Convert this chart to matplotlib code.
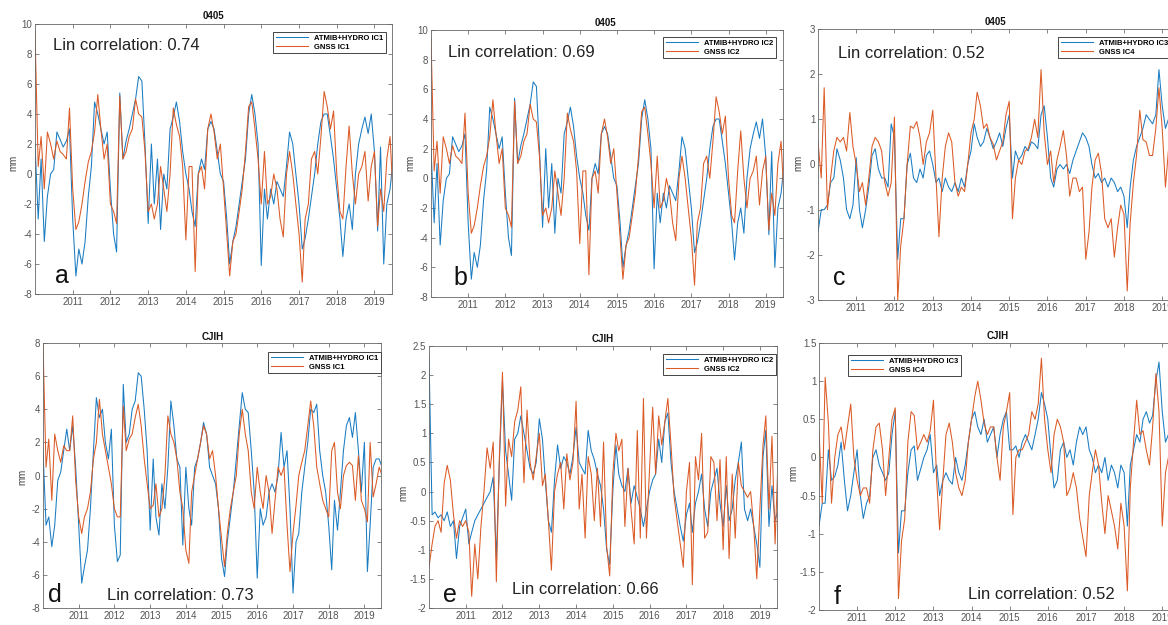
import pandas as pd
import matplotlib
matplotlib.use("Agg")
import matplotlib.pyplot as plt
from matplotlib.ticker import FormatStrFormatter

W, H = 1168, 625
plt.rcParams["font.family"] = ["Liberation Sans", "DejaVu Sans"]
plt.rcParams["axes.unicode_minus"] = False

BLUE = "#1A7CC2"
ORANGE = "#DB5A25"

# monthly samples, Jan 2010 .. Jul 2019
months = pd.date_range("2010-01-01", periods=115, freq="MS")
year_ticks = [2011, 2012, 2013, 2014, 2015, 2016, 2017, 2018, 2019]

# station 0405, IC1 / IC2 (mm)
hydro_0405_ic1 = [
    2.0, -3.0, 1.0, -4.5, -1.5, 0.0, 0.3, 2.8, 2.3, 1.8, 2.2, 3.0,
    -3.0, -6.8, -5.0, -6.0, -4.5, -1.5, 0.5, 4.8, 4.0, 3.0, 2.0, 2.8,
    -1.0, -4.0, -5.2, 5.4, 1.0, 2.2, 3.0, 4.0, 5.0, 6.5, 6.2, 2.0,
    -3.3, 2.0, -2.0, 1.0, -3.7, 0.0, -1.0, 3.0, 3.8, 4.8, 3.5, 1.5,
    0.0, -1.0, -2.5, -3.5, 0.0, 1.0, 0.3, 3.0, 3.5, 3.0, 1.5, 0.0,
    -0.5, -3.0, -6.0, -4.5, -3.5, -2.0, -0.5, 1.0, 4.0, 5.3, 4.0, 2.0,
    -6.1, -1.0, -3.0, -1.0, -2.0, -0.5, -1.0, -1.5, 0.5, 2.8, 2.0, 0.0,
    -2.0, -5.0, -4.3, -3.0, -1.5, 0.0, 2.0, 3.5, 4.0, 4.0, 2.5, 1.0,
    -1.0, -3.0, -5.5, -3.0, -2.0, -3.7, 0.0, 2.0, 3.0, 3.8, 2.7, 4.0,
    1.5, -3.8, 1.8, -6.0, -2.0, -1.0, 1.0,
]
gnss_0405_ic1 = [
    9.5, 0.5, 2.5, -1.0, 2.8, 2.0, 1.0, 2.2, 1.5, 1.3, 1.0, 4.4,
    -1.0, -3.7, -3.2, -2.0, -0.5, 0.8, 1.5, 2.8, 5.3, 3.0, 1.0, 2.0,
    -2.0, -2.5, -3.3, 5.2, 1.0, 1.5, 2.5, 3.0, 5.0, 4.0, 3.8, 1.5,
    -2.5, -2.0, -3.0, -2.0, 0.5, -1.0, -2.5, 0.0, 4.4, 3.3, 2.5, 0.5,
    -4.4, 0.5, 0.5, -6.5, 0.0, 0.5, -1.0, 3.0, 4.0, 2.8, 1.0, 2.0,
    -1.0, -4.0, -6.8, -4.5, -4.0, -2.5, -1.0, 1.5, 4.5, 4.8, 3.0, 1.0,
    -2.0, 1.5, -2.0, -1.5, 0.0, -1.0, -3.0, -4.2, 0.0, 1.5, 0.0, -2.0,
    -4.0, -7.2, -3.0, -2.0, 1.0, 1.5, 0.0, 2.5, 5.5, 4.5, 3.0, 4.2,
    0.0, -2.5, -3.0, 0.5, 3.2, 0.0, -2.0, 0.0, 0.5, 1.5, -1.8, 0.5,
    1.5, -3.5, -1.0, -2.5, 1.0, 2.5, -1.5,
]

# station 0405, IC3 / IC4 (mm)
hydro_0405_ic3 = [
    -1.5, -1.0, -1.0, -0.9, -0.4, -0.3, 0.35, 0.1, -0.3, -1.0, -1.2, -0.9,
    0.15, -1.0, -1.4, -1.0, -0.5, 0.2, 0.35, -0.1, -0.3, -0.3, -0.5, 0.9,
    0.6, -2.1, -1.2, -1.2, 0.0, 0.25, -0.3, -0.4, -0.1, -0.3, 0.2, 0.3,
    0.0, -0.4, -0.3, -0.6, -0.3, -0.5, -0.6, -0.4, -0.6, -0.3, -0.5, 0.0,
    0.3, 0.9, 0.6, 0.4, 0.5, 0.8, 0.6, 0.35, 0.5, 0.7, 0.4, 0.8,
    1.1, -0.3, 0.3, 0.1, 0.2, 0.4, 0.3, 0.5, 0.45, 0.35, 1.1, 1.3,
    0.6, -0.3, -0.5, -0.1, 0.0, -0.1, 0.0, -0.2, 0.1, 0.3, 0.5, 0.7,
    0.6, 0.4, 0.0, -0.3, -0.2, -0.4, -0.3, -0.5, -0.3, -0.4, -0.6, -0.5,
    -0.7, -1.4, -0.5, 0.1, 0.4, 0.6, 0.8, 1.1, 1.0, 0.9, 1.1, 2.1,
    1.3, 0.8, 1.0, 0.7, 0.5, 0.6, 0.5,
]
gnss_0405_ic4 = [
    0.5, -0.3, 1.7, -1.0, -0.3, 0.3, 0.6, 0.5, 0.6, 0.3, 1.15, 0.4,
    0.0, -0.6, -0.4, -0.9, -0.3, 0.4, 0.6, 0.5, 0.3, -0.4, -0.7, -0.4,
    1.05, -3.0, -1.8, -1.2, 0.0, 0.85, 0.8, 0.95, 0.6, 0.0, 0.5, 0.7,
    1.2, -0.3, -1.6, -0.3, 0.4, 0.7, 0.5, -0.4, -0.7, -0.5, -0.6, 0.0,
    0.7, 1.0, 1.6, 1.3, 0.8, 0.9, 0.6, 0.45, 0.1, 0.3, 0.5, 1.1,
    1.4, -1.2, -0.3, 0.1, 0.0, 0.3, 0.35, 0.6, 1.0, 0.6, 2.1, 0.7,
    0.0, 0.3, -0.4, 0.1, 0.4, 0.75, 0.2, -0.7, -0.3, -0.3, -0.6, -0.5,
    -2.1, -1.5, -0.5, 0.1, 0.25, -0.2, -1.2, -1.4, -1.2, -2.05, -1.4, -0.9,
    -1.1, -2.8, -1.3, -0.4, 0.2, 1.2, 0.55, 0.5, 0.2, 0.2, 0.8, 1.7,
    0.8, -0.5, 0.3, -1.0, -0.2, 0.0, 0.2,
]

# station CJIH, IC1 (mm)
hydro_cjih_ic1 = [
    1.5, -3.0, -2.5, -4.3, -3.0, -0.3, 0.2, 1.5, 2.8, 1.5, 3.0, 0.5,
    -3.0, -6.5, -5.5, -4.5, -2.0, 1.5, 4.7, 3.5, 4.0, 2.0, 1.0, 2.8,
    -3.0, -5.2, -4.8, 5.5, 2.0, 2.5, 4.0, 4.5, 6.2, 6.0, 4.0, 1.5,
    -3.3, 1.0, -2.5, -3.6, -0.5, -2.0, 0.5, 4.5, 3.0, 1.0, 0.5, -4.2,
    0.5, -2.0, -3.0, 0.5, 1.0, 2.0, 3.2, 2.5, 0.5, 0.0, -0.5, -2.0,
    -5.0, -6.1, -4.0, -2.5, -1.0, 1.0, 3.0, 5.0, 4.0, 3.8, 1.5, -1.0,
    -6.2, -2.0, -3.0, -2.5, -1.0, -0.5, -1.0, 0.0, 2.6, 0.5, 1.5, -2.0,
    -7.1, -4.0, -3.5, -1.0, 0.5, 2.0, 4.0, 3.8, 4.3, 1.5, 0.0, -1.0,
    -3.0, -5.7, -1.5, -3.3, -1.0, 1.5, 3.0, 3.5, 2.3, 3.8, 1.5, -1.0,
    2.0, -5.8, -3.0, 0.5, 1.0, 1.0, 0.5,
]
gnss_cjih_ic1 = [
    8.0, 0.5, 2.2, -1.5, 2.5, 1.5, 0.8, 1.8, 1.5, 1.5, 3.6, -0.3,
    -2.5, -3.5, -2.5, -2.0, -1.0, 1.0, 2.0, 4.6, 2.5, 1.5, 0.5, -0.5,
    -2.0, -2.5, -2.5, 4.2, 1.5, 2.2, 2.5, 3.5, 4.3, 3.0, 1.0, -0.5,
    -2.0, -1.8, -0.5, -2.5, -2.0, 0.0, 3.6, 2.5, 2.0, 1.0, -1.0, -2.0,
    -4.5, -5.3, -1.0, 0.0, 1.0, 2.0, 3.0, 2.5, 1.0, 1.5, 0.0, -2.0,
    -3.8, -5.5, -3.5, -2.0, -1.0, 0.0, 2.5, 4.0, 2.5, 1.5, -1.0, -2.0,
    0.5, -1.0, -2.0, 0.0, -1.0, -3.5, -1.5, 0.5, 0.0, 0.5, -3.0, -5.8,
    -3.5, -1.8, 0.0, 0.8, 1.5, 3.0, 4.5, 3.0, 0.5, -0.5, -1.5, -2.0,
    -2.5, 1.5, 2.0, -1.0, -2.0, 0.0, 0.6, 0.8, 0.6, -1.5, 1.2, -1.5,
    -2.0, -2.8, 2.0, -1.3, -0.5, 0.5, 0.0,
]

# station CJIH, IC2 (mm)
hydro_cjih_ic2 = [
    2.3, -0.4, -0.35, -0.45, -0.4, -0.5, -0.35, -0.6, -0.5, -1.15, -0.6, -0.45,
    -0.3, -0.9, -0.7, -0.5, -0.4, -0.3, -0.2, -0.1, 0.0, 0.25, -1.15, 0.5,
    1.9, 0.7, 0.3, -0.15, 0.9, 1.0, 1.3, 1.0, 0.7, 0.4, 0.3, 0.5,
    1.25, 0.9, 0.2, -0.5, -0.7, 0.2, 0.8, 0.4, 0.6, 0.5, 0.3, 0.6,
    1.1, 0.5, 0.4, 0.3, 1.05, 0.7, 0.55, 0.3, 0.1, -0.3, -1.0, -1.25,
    0.0, 0.8, 0.3, 0.1, 0.0, 0.4, -0.2, 0.1, -0.1, -0.3, -0.6, -0.3,
    0.0, 0.2, 0.3, 0.9, 0.5, 1.2, 1.35, 0.5, 0.0, -0.3, -0.6, -0.85,
    -0.4, -0.2, -0.7, -0.2, 0.0, 0.3, -0.3, -0.6, 0.0, 0.2, 0.4, -0.2,
    -0.6, 0.1, -0.5, -0.3, 0.2, 0.5, 0.85, -0.3, -0.5, -0.3, -0.6, -0.9,
    -1.3, 0.6, 1.05, -0.6, 0.1, -0.5, -0.3,
]
gnss_cjih_ic2 = [
    -1.3, -0.9, -0.6, -0.5, -0.7, 0.15, 0.45, 0.2, -0.4, -0.8, -0.5, -0.6,
    -0.5, -0.7, -1.8, -0.9, -1.5, -0.6, 0.0, 0.75, 0.4, 0.85, -1.55, 0.6,
    2.05, -0.25, 0.9, 0.6, 1.2, 1.4, 1.8, 0.15, 1.4, 0.5, 0.2, 0.6,
    1.0, 0.1, 0.3, -0.5, -1.35, 0.0, 0.3, 0.5, -0.3, 0.65, 0.2, 0.5,
    1.55, -0.3, 0.3, -0.8, 0.6, 0.3, -0.5, 0.4, -0.6, 0.85, -0.95, -1.45,
    0.3, 1.0, 0.7, 0.9, -0.6, 0.4, -0.3, -0.9, 1.05, -0.8, 1.6, -0.8,
    0.4, 1.45, 0.3, 1.3, 0.8, 1.2, 1.6, 0.8, -0.1, -0.5, -0.9, -1.3,
    0.0, 0.5, -1.6, 0.6, 0.2, 1.0, -0.8, -0.7, 0.6, 0.5, -0.5, 0.55,
    -1.0, 0.6, -1.15, 0.3, -0.8, 0.5, 0.1, 0.0, -0.1, 0.0, -0.6, -1.5,
    -0.3, 0.8, 1.3, -0.3, 0.95, -0.9, 0.6,
]

# station CJIH, IC3 / IC4 (mm)
hydro_cjih_ic3 = [
    -0.9, -0.6, -0.6, 0.1, -0.3, -0.25, -0.1, 0.2, -0.3, -0.7, -0.5, -0.2,
    0.1, -0.5, -0.8, -0.6, -0.5, 0.0, 0.1, -0.1, -0.2, -0.3, -0.2, 0.3,
    0.6, -1.25, -0.7, -0.7, -0.2, 0.1, 0.15, -0.3, -0.15, 0.0, 0.1, 0.3,
    -0.2, -0.1, -0.5, -0.3, -0.2, -0.3, -0.35, 0.0, -0.2, -0.3, -0.1, 0.2,
    0.5, 0.6, 0.4, 0.3, 0.5, 0.2, 0.3, 0.4, 0.0, 0.3, 0.5, 0.6,
    0.1, 0.1, 0.15, 0.0, 0.2, 0.3, 0.2, 0.1, 0.3, 0.5, 0.85, 0.7,
    0.5, 0.0, -0.4, -0.3, 0.1, 0.2, 0.0, 0.1, -0.1, 0.2, 0.4, 0.3,
    0.4, 0.1, 0.0, -0.2, -0.1, -0.2, 0.0, -0.3, -0.1, -0.2, -0.4, -0.1,
    -0.2, -0.9, -0.1, 0.1, 0.3, 0.2, 0.5, 0.6, 0.45, 0.55, 1.0, 1.25,
    0.6, 0.2, 0.3, 0.2, 0.3, 0.1, 0.2,
]
gnss_cjih_ic4 = [
    0.35, -0.6, 1.05, 0.45, -0.6, 0.0, 0.3, 0.4, 0.1, 0.4, 0.7, 0.0,
    -0.3, -0.5, -0.4, -0.4, -0.6, 0.1, 0.4, 0.45, 0.1, -0.5, 0.0, 0.5,
    0.65, -1.85, -1.1, -0.8, 0.2, 0.6, 0.55, 0.1, 0.2, 0.3, 0.2, 0.35,
    0.75, -0.3, -0.95, -0.3, 0.3, 0.45, 0.2, -0.2, -0.4, -0.5, -0.3, 0.2,
    0.5, 0.8, 1.0, 0.75, 0.45, 0.3, 0.4, 0.4, 0.0, -0.3, 0.4, 0.6,
    0.85, -0.75, 0.0, 0.1, 0.1, 0.2, 0.3, 0.6, 0.5, 0.7, 1.3, 0.5,
    0.1, -0.2, 0.3, 0.5, 0.4, 0.2, -0.5, -0.4, -0.2, -0.4, -0.8, -1.05,
    -1.3, -0.5, -0.2, 0.1, -0.1, -0.6, -1.0, -0.5, -0.7, -0.9, -1.2, -0.6,
    -0.9, -1.75, -0.4, 0.2, 0.75, 0.3, 0.35, 0.1, -0.1, 0.4, 1.1, 0.6,
    -0.9, -0.2, 0.0, 0.2, -0.1, 0.1, 0.0,
]

corr_values = ["0.74", "0.69", "0.52", "0.73", "0.66", "0.52"]

# box = (left, top, right, bottom) in pixels
panels = [
    dict(box=(35, 24, 392, 294), station="0405", hydro=hydro_0405_ic1, gnss=gnss_0405_ic1,
         labels=("ATMIB+HYDRO IC1", "GNSS IC1"), ylim=(-8, 10), ystep=2,
         title_xy=(213, 16), ylab_xy=(13, 163), leg_xy=(273, 32),
         corr_xy=(53, 50), letter="a", letter_xy=(55, 283)),
    dict(box=(431, 30, 783, 297), station="0405", hydro=hydro_0405_ic1, gnss=gnss_0405_ic1,
         labels=("ATMIB+HYDRO IC2", "GNSS IC2"), ylim=(-8, 10), ystep=2,
         title_xy=(605, 23), ylab_xy=(410, 163), leg_xy=(663, 37),
         corr_xy=(448, 57), letter="b", letter_xy=(453, 285)),
    dict(box=(818, 29, 1180, 300), station="0405", hydro=hydro_0405_ic3, gnss=gnss_0405_ic4,
         labels=("ATMIB+HYDRO IC3", "GNSS IC4"), ylim=(-3, 3), ystep=1,
         title_xy=(995, 22), ylab_xy=(798, 163), leg_xy=(1058, 37),
         corr_xy=(838, 58), letter="c", letter_xy=(833, 285)),
    dict(box=(43, 343, 381, 608), station="CJIH", hydro=hydro_cjih_ic1, gnss=gnss_cjih_ic1,
         labels=("ATMIB+HYDRO IC1", "GNSS IC1"), ylim=(-8, 8), ystep=2,
         title_xy=(213, 337), ylab_xy=(22, 477), leg_xy=(268, 352),
         corr_xy=(107, 600), letter="d", letter_xy=(48, 602)),
    dict(box=(429, 346, 777, 608), station="CJIH", hydro=hydro_cjih_ic2, gnss=gnss_cjih_ic2,
         labels=("ATMIB+HYDRO IC2", "GNSS IC2"), ylim=(-2, 2.5), ystep=0.5,
         title_xy=(603, 339), ylab_xy=(403, 493), leg_xy=(663, 354),
         corr_xy=(512, 594), letter="e", letter_xy=(443, 602)),
    dict(box=(819, 343, 1180, 610), station="CJIH", hydro=hydro_cjih_ic3, gnss=gnss_cjih_ic4,
         labels=("ATMIB+HYDRO IC3", "GNSS IC4"), ylim=(-2, 1.5), ystep=0.5,
         title_xy=(998, 336), ylab_xy=(793, 473), leg_xy=(848, 355),
         corr_xy=(968, 599), letter="f", letter_xy=(834, 604)),
]


def fx(x):
    return x / W


def fy(y):
    return 1 - y / H


fig = plt.figure(figsize=(W / 100, H / 100), dpi=100)

for p, corr in zip(panels, corr_values):
    l, t, r, b = p["box"]
    ax = fig.add_axes([fx(l), fy(b), (r - l) / W, (b - t) / H])
    ax.plot(months, p["hydro"], color=BLUE, lw=0.75, label=p["labels"][0])
    ax.plot(months, p["gnss"], color=ORANGE, lw=0.75, label=p["labels"][1])

    ax.set_xlim(pd.Timestamp("2010-01-01"), pd.Timestamp("2019-06-20"))
    ax.set_ylim(*p["ylim"])
    lo, hi = p["ylim"]
    n = int(round((hi - lo) / p["ystep"]))
    ax.set_yticks([lo + i * p["ystep"] for i in range(n + 1)])
    ax.yaxis.set_major_formatter(FormatStrFormatter("%g"))
    ax.set_xticks([pd.Timestamp(f"{y}-01-01") for y in year_ticks])
    ax.set_xticklabels([str(y) for y in year_ticks])
    ax.tick_params(direction="in", top=True, right=True, length=3, width=0.5,
                   labelsize=7, colors="#555", pad=2)
    for s in ax.spines.values():
        s.set_linewidth(0.6)
        s.set_color("#666")

    leg = ax.legend(loc="upper left", bbox_to_anchor=(fx(p["leg_xy"][0]), fy(p["leg_xy"][1])),
                    bbox_transform=fig.transFigure, prop={"size": 5.5, "weight": "bold"},
                    handlelength=4.2, labelspacing=0.15, borderpad=0.35,
                    borderaxespad=0, fancybox=False, edgecolor="#444", framealpha=1)
    leg.get_frame().set_linewidth(0.7)

    fig.text(fx(p["title_xy"][0]), fy(p["title_xy"][1]), p["station"], ha="center",
             va="center", fontsize=7, fontweight="bold", color="#111")
    fig.text(fx(p["ylab_xy"][0]), fy(p["ylab_xy"][1]), "mm", ha="center", va="center",
             rotation=90, fontsize=7, color="#444")
    fig.text(fx(p["corr_xy"][0]), fy(p["corr_xy"][1]), f"Lin correlation: {corr}",
             ha="left", va="baseline", fontsize=12, color="#222")
    fig.text(fx(p["letter_xy"][0]), fy(p["letter_xy"][1]), p["letter"], ha="left",
             va="baseline", fontsize=18, color="#111")

fig.savefig("out.png", dpi=100)
